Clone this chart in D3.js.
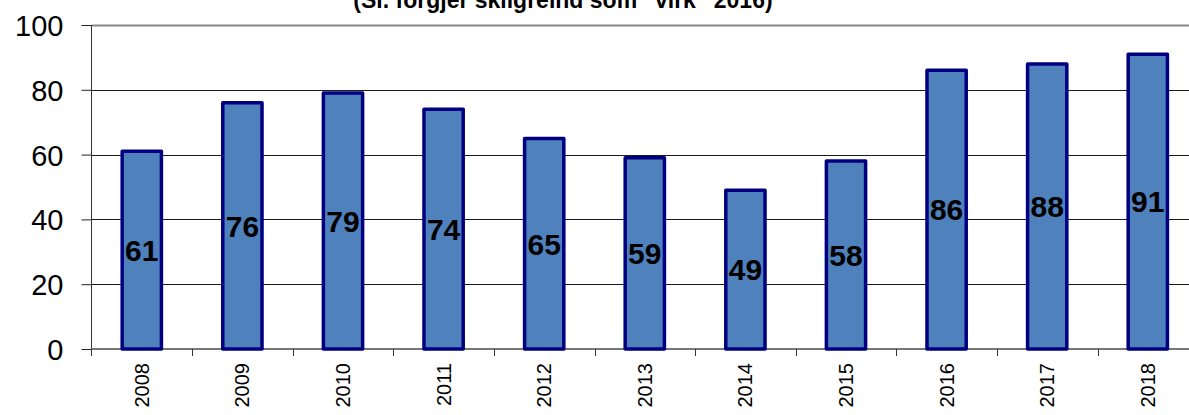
<!DOCTYPE html>
<html>
<head>
<meta charset="utf-8">
<script src="https://cdn.jsdelivr.net/npm/d3@7"></script>
<style>
  html, body { margin: 0; padding: 0; background: #fff; }
  svg { display: block; font-family: Arial, "Liberation Sans", sans-serif; }
</style>
</head>
<body>
<svg id="chart" width="1189" height="415"></svg>
<script>
const years = ["2008","2009","2010","2011","2012","2013","2014","2015","2016","2017","2018"];
const values = [61, 76, 79, 74, 65, 59, 49, 58, 86, 88, 91];
const yTicks = [0, 20, 40, 60, 80, 100];
const titleText = "(Sl. forgjer skilgreind som \u201Cvirk\u201D 2016)";

const svg = d3.select("#chart");
const pLeft = 91.5, pRight = 91.5 + 11 * 100.6, pTop = 25, pBottom = 349;

const x = d3.scaleBand().domain(years).range([pLeft, pRight]).paddingInner(0.61).paddingOuter(0.305);
const y = d3.scaleLinear().domain([0, 100]).range([pBottom, pTop]);

// title (mostly cut off at top, as in the reference)
svg.append("text")
  .attr("x", 563).attr("y", 7.5)
  .attr("text-anchor", "middle")
  .attr("font-weight", "bold").attr("font-size", 23)
  .text(titleText);

// gridlines
svg.append("g").selectAll("line").data(yTicks.filter(d => d > 0)).join("line")
  .attr("x1", pLeft).attr("x2", 1189)
  .attr("y1", d => Math.round(y(d)) + 0.5).attr("y2", d => Math.round(y(d)) + 0.5)
  .attr("stroke", d => d === 100 ? "#888" : "#1a1a1a")
  .attr("stroke-width", d => d === 100 ? 2 : 1);

// y axis
const yAxis = svg.append("g").attr("transform", `translate(${pLeft},0)`)
  .call(d3.axisLeft(y).tickValues(yTicks).tickSize(10).tickPadding(18).tickFormat(d3.format("d")));
yAxis.select(".domain").attr("stroke", "#333").attr("d", `M0,${pTop}V${pBottom + 7}`);
yAxis.selectAll(".tick line").attr("stroke", "#222");
yAxis.selectAll(".tick text").attr("font-size", 29).attr("fill", "#000")
  .attr("font-family", "Arial, 'Liberation Sans', sans-serif").attr("dy", "0.36em");

// x axis line & boundary ticks
svg.append("line").attr("x1", pLeft).attr("x2", 1189).attr("y1", pBottom).attr("y2", pBottom)
  .attr("stroke", "#777").attr("stroke-width", 2);
svg.append("g").selectAll("line").data(years.slice(1)).join("line")
  .attr("x1", d => Math.round(x(d) - x.step() * x.paddingInner() / 2) + 0.5)
  .attr("x2", d => Math.round(x(d) - x.step() * x.paddingInner() / 2) + 0.5)
  .attr("y1", pBottom).attr("y2", pBottom + 7)
  .attr("stroke", "#333");

// bars
svg.append("g").selectAll("rect").data(values).join("rect")
  .attr("x", (d, i) => x(years[i]))
  .attr("width", x.bandwidth())
  .attr("y", d => y(d))
  .attr("height", d => y(0) - y(d))
  .attr("fill", "#4F81BD")
  .attr("stroke", "#000080")
  .attr("stroke-width", 3.5)
  .attr("stroke-linejoin", "round");

// value labels
svg.append("g").selectAll("text").data(values).join("text")
  .attr("x", (d, i) => x(years[i]) + x.bandwidth() / 2)
  .attr("y", d => (y(d) + y(0)) / 2)
  .attr("dy", "0.36em")
  .attr("text-anchor", "middle")
  .attr("font-weight", "bold").attr("font-size", 30)
  .text(d => d);

// x labels (rotated)
svg.append("g").selectAll("text").data(years).join("text")
  .attr("transform", d => `translate(${x(d) + x.bandwidth() / 2 + 7},${363}) rotate(-90)`)
  .attr("text-anchor", "end")
  .attr("font-size", 20)
  .text(d => d);
</script>
</body>
</html>
